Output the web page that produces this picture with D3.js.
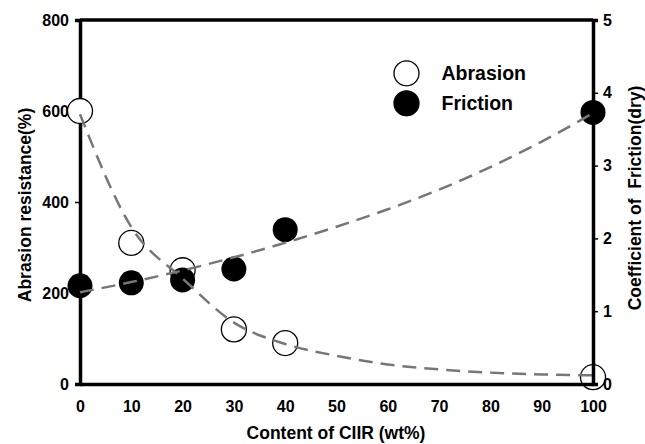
<!DOCTYPE html>
<html><head><meta charset="utf-8">
<script src="https://cdn.jsdelivr.net/npm/d3@7"></script>
<style>
body{margin:0;background:#fff;}
text{font-family:"Liberation Sans",Arial,sans-serif;font-weight:bold;fill:#000;}
</style></head>
<body><svg id="c" width="645" height="444"></svg>
<script>
const xTicks = [0,10,20,30,40,50,60,70,80,90,100];
const leftTicks = [0,200,400,600,800];
const rightTicks = [0,1,2,3,4,5];
const abrasionX = [0,10,20,30,40,100];
const abrasionY = [600,310,250,120,90,15];
const frictionX = [0,10,20,30,40,100];
const frictionY = [1.35,1.39,1.43,1.58,2.12,3.73];
const trendX = [0,10,20,30,40,50,60,70,80,90,100];
const abrasionTrend = [593,345,232,135,88,62,43,32,25,21,19];
const frictionTrend = [1.26,1.40,1.56,1.74,1.94,2.16,2.40,2.67,2.98,3.33,3.72];

const svg = d3.select("#c");
const L=80, R=593, T=20, B=384;
const x = d3.scaleLinear().domain([0,100]).range([L,R]);
const yL = d3.scaleLinear().domain([0,800]).range([B,T]);
const yR = d3.scaleLinear().domain([0,5]).range([B,T]);

// top border
svg.append("line").attr("x1",L).attr("x2",R).attr("y1",T).attr("y2",T)
  .attr("stroke","#000").attr("stroke-width",3.5);

// left axis
const gl = svg.append("g").attr("transform",`translate(${L},0)`)
  .call(d3.axisLeft(yL).tickValues(leftTicks).tickSize(5).tickPadding(6));
gl.select(".domain").attr("stroke-width",3.5);
gl.selectAll(".tick line").attr("stroke-width",1.5);
gl.selectAll(".tick text").attr("font-size",16).attr("font-weight","bold").attr("fill","#000");

// markers
const abr = abrasionX.map((d,i)=>[d,abrasionY[i]]);
const fri = frictionX.map((d,i)=>[d,frictionY[i]]);
svg.append("g").selectAll("circle").data(abr).join("circle")
  .attr("cx",d=>x(d[0])).attr("cy",d=>yL(d[1])).attr("r",12.5)
  .attr("fill",d=>d[0]===100?"none":"#fff").attr("stroke","#000").attr("stroke-width",1.3);
svg.append("g").selectAll("circle").data(fri).join("circle")
  .attr("cx",d=>x(d[0])).attr("cy",d=>yR(d[1])).attr("r",12.5)
  .attr("fill","#000");

// trend lines
const line1 = d3.line().x((d,i)=>x(trendX[i])).y(d=>yL(d)).curve(d3.curveMonotoneX);
const line2 = d3.line().x((d,i)=>x(trendX[i])).y(d=>yR(d)).curve(d3.curveMonotoneX);
svg.append("path").attr("d",line1(abrasionTrend)).attr("fill","none")
  .attr("stroke","#777").attr("stroke-width",2.5).attr("stroke-dasharray","14,8");
svg.append("path").attr("d",line2(frictionTrend)).attr("fill","none")
  .attr("stroke","#777").attr("stroke-width",2.5).attr("stroke-dasharray","14,8");

// bottom axis
const gb = svg.append("g").attr("transform",`translate(0,${B})`)
  .call(d3.axisBottom(x).tickValues(xTicks).tickSize(0).tickPadding(17));
gb.select(".domain").attr("stroke-width",3.5);
gb.selectAll(".tick text").attr("font-size",16).attr("font-weight","bold").attr("fill","#000");

// right axis
const gr = svg.append("g").attr("transform",`translate(${R},0)`)
  .call(d3.axisRight(yR).tickValues(rightTicks).tickSize(5).tickPadding(5).tickFormat(d3.format("d")));
gr.select(".domain").attr("stroke-width",3.5);
gr.selectAll(".tick line").attr("stroke-width",1.5);
gr.selectAll(".tick text").attr("font-size",16).attr("font-weight","bold").attr("fill","#000");

// axis titles
svg.append("text").attr("transform","translate(31,205) rotate(-90)")
  .attr("text-anchor","middle").attr("font-size",17.5).text("Abrasion resistance(%)");
svg.append("text").attr("transform","translate(641,198) rotate(-90)")
  .attr("text-anchor","middle").attr("font-size",17.5).text("Coefficient of  Friction(dry)").style("white-space","pre");
svg.append("text").attr("x",336).attr("y",439)
  .attr("text-anchor","middle").attr("font-size",17.5).text("Content of CIIR (wt%)");

// legend
const legend = [{name:"Abrasion",fill:"#fff"},{name:"Friction",fill:"#000"}];
const lg = svg.append("g").selectAll("g").data(legend).join("g")
  .attr("transform",(d,i)=>`translate(406.5,${73.3+i*30})`);
lg.append("circle").attr("r",12.5).attr("fill",d=>d.fill).attr("stroke","#000").attr("stroke-width",1.3);
lg.append("text").attr("x",35).attr("y",6.5).attr("font-size",19.5).text(d=>d.name);
</script></body></html>
